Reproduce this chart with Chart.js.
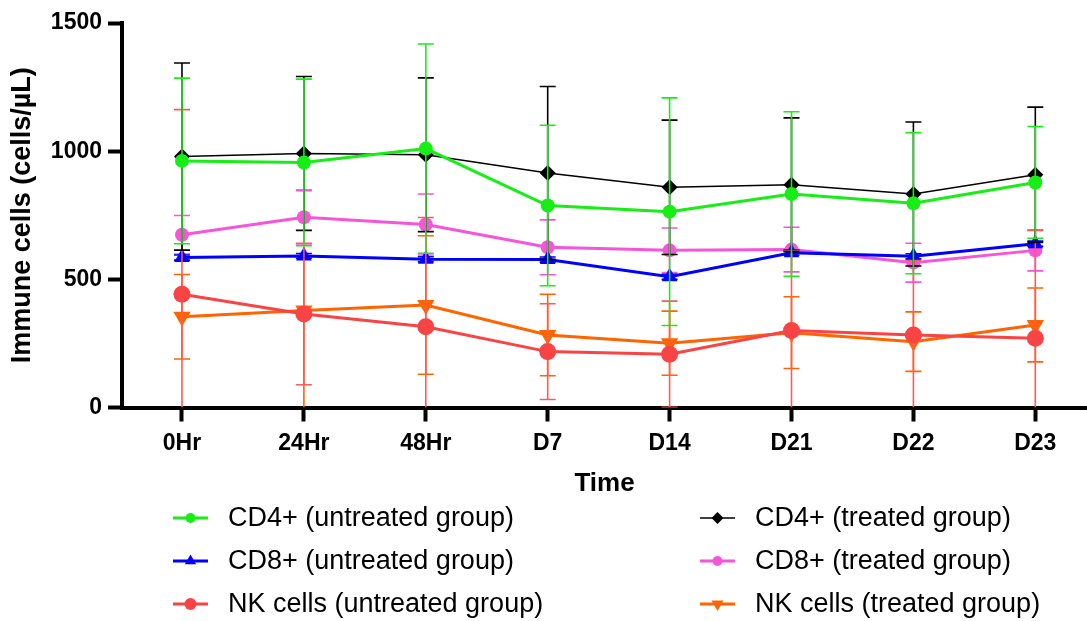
<!DOCTYPE html>
<html>
<head>
<meta charset="utf-8">
<script src="https://cdn.jsdelivr.net/npm/chart.js@4"></script>
<style>
  html, body { margin: 0; padding: 0; background: #fff; }
  #wrap { width: 1087px; height: 621px; position: relative; }
</style>
</head>
<body>
<div id="wrap"><canvas id="chart"></canvas></div>
<script>
// Time points on the x axis
const categories = ["0Hr", "24Hr", "48Hr", "D7", "D14", "D21", "D22", "D23"];

// Mean values (cells/µL) and their SD
const cd4Untreated = [962, 956, 1010, 788, 764, 833, 797, 878];
const cd4UntreatedSd = [323, 325, 408, 313, 444, 321, 275, 218];
const cd4Treated = [979, 991, 986, 915, 859, 869, 833, 908];
const cd4TreatedSd = [365, 300, 300, 337, 262, 261, 281, 264];
const cd8Untreated = [585, 591, 578, 577, 510, 604, 590, 639];
const cd8UntreatedSd = [10, 10, 10, 10, 10, 10, 10, 10];
const cd8Treated = [674, 742, 714, 625, 613, 616, 565, 613];
const cd8TreatedSd = [75, 104, 119, 107, 87, 87, 76, 80];
const nkUntreated = [442, 365, 315, 218, 208, 300, 283, 270];
const nkUntreatedSd = [720, 276, 426, 187, 207, 310, 290, 421];
const nkTreated = [354, 378, 400, 283, 251, 292, 257, 322];
const nkTreatedSd = [165, 470, 270, 159, 125, 140, 116, 144];

// Y axis ticks
const yTicks = [0, 500, 1000, 1500];

Chart.defaults.font.family = "'Liberation Sans', Arial, sans-serif";
Chart.defaults.color = "#000";

// turn a series into {x, y} points on the index axis
const pts = (arr) => arr.map((v, i) => ({ x: i, y: v }));

const makeSet = (label, values, sd, color, opts) => ({
    label: label,
    data: pts(values),
    sd: sd,
    borderColor: color,
    backgroundColor: color,
    pointBackgroundColor: color,
    pointBorderColor: color,
    borderWidth: 3,
    pointRadius: 7,
    pointHoverRadius: 7,
    pointBorderWidth: 0,
    tension: 0,
    errorColor: color,
    legendRadius: 5,
    ...opts,
});

const datasets = [
    makeSet("CD4+ (untreated group)", cd4Untreated, cd4UntreatedSd, "#16ee16", { pointStyle: "circle", pointRadius: 7, order: 1 }),
    makeSet("CD4+ (treated group)", cd4Treated, cd4TreatedSd, "#000000", { pointStyle: "rectRot", pointRadius: 8, borderWidth: 1.5, order: 2, legendRadius: 6 }),
    makeSet("CD8+ (untreated group)", cd8Untreated, cd8UntreatedSd, "#0000ff", { pointStyle: "triangle", pointRadius: 9, order: 4, legendRadius: 6.5 }),
    makeSet("CD8+ (treated group)", cd8Treated, cd8TreatedSd, "#f556d9", { pointStyle: "circle", pointRadius: 7, order: 5 }),
    makeSet("NK cells (untreated group)", nkUntreated, nkUntreatedSd, "#f84444", { pointStyle: "circle", pointRadius: 8.5, order: 3, errorColor: "#ff5a5a", legendRadius: 6 }),
    makeSet("NK cells (treated group)", nkTreated, nkTreatedSd, "#ff6400", { pointStyle: "triangle", pointRotation: 180, pointRadius: 10, order: 6, legendRadius: 7 }),
];

// Error bars drawn right before each dataset's line
const errorBars = {
    id: "errorBars",
    beforeDatasetDraw(chart, args) {
        const ds = chart.data.datasets[args.index];
        const yScale = chart.scales.y;
        const area = chart.chartArea;
        const ctx = chart.ctx;
        ctx.save();
        ctx.beginPath();
        ctx.rect(area.left, area.top - 30, area.right - area.left, area.bottom - area.top + 30);
        ctx.clip();
        ctx.strokeStyle = ds.errorColor;
        ctx.lineWidth = 1.6;
        args.meta.data.forEach((el, i) => {
            const v = ds.data[i].y;
            const s = ds.sd[i];
            const yHi = yScale.getPixelForValue(v + s);
            const lowVal = v - s;
            const yLo = yScale.getPixelForValue(Math.max(0, lowVal));
            ctx.beginPath();
            ctx.moveTo(el.x, yHi);
            ctx.lineTo(el.x, yLo);
            ctx.moveTo(el.x - 8, yHi);
            ctx.lineTo(el.x + 8, yHi);
            if (lowVal > 0) {
                ctx.moveTo(el.x - 8, yLo);
                ctx.lineTo(el.x + 8, yLo);
            }
            ctx.stroke();
        });
        ctx.restore();
    },
};

// Two-column legend under the axis title
const gridLegend = {
    id: "gridLegend",
    afterDraw(chart) {
        const ctx = chart.ctx;
        const colX = [173, 700];
        const rowY = [518, 561, 604];
        ctx.save();
        chart.data.datasets.forEach((ds, i) => {
            const x = colX[i % 2];
            const y = rowY[Math.floor(i / 2)];
            ctx.strokeStyle = ds.borderColor;
            ctx.lineWidth = ds.borderWidth;
            ctx.beginPath();
            ctx.moveTo(x, y);
            ctx.lineTo(x + 35, y);
            ctx.stroke();
            ctx.fillStyle = ds.backgroundColor;
            Chart.helpers.drawPoint(ctx, {
                pointStyle: ds.pointStyle,
                radius: ds.legendRadius,
                rotation: ds.pointRotation || 0,
                borderWidth: 0,
            }, x + 17.5, y);
            ctx.fillStyle = "#000";
            ctx.font = "27px 'Liberation Sans', Arial, sans-serif";
            ctx.textBaseline = "middle";
            ctx.textAlign = "left";
            ctx.fillText(ds.label, x + 55, y + 1);
        });
        ctx.restore();
    },
};

new Chart(document.getElementById("chart"), {
    type: "line",
    data: { datasets: datasets },
    plugins: [errorBars, gridLegend],
    options: {
        responsive: true,
        maintainAspectRatio: false,
        animation: false,
        layout: { autoPadding: false, padding: { top: 23, right: 0, bottom: 0, left: 0 } },
        plugins: {
            legend: { display: false },
            tooltip: { enabled: false },
        },
        scales: {
            x: {
                type: "linear",
                min: -0.492,
                max: 7.424,
                afterBuildTicks: (scale) => {
                    scale.ticks = categories.map((_, i) => ({ value: i }));
                },
                afterFit: (scale) => {
                    scale.height = 213.5;
                    scale.paddingLeft = 0;
                    scale.paddingRight = 0;
                },
                ticks: {
                    callback: (v) => categories[v],
                    font: { size: 23, weight: "bold" },
                    color: "#000",
                    padding: 8,
                    maxRotation: 0,
                    autoSkip: false,
                },
                grid: {
                    drawOnChartArea: false,
                    tickLength: 14,
                    tickWidth: 4,
                    tickColor: "#000",
                },
                border: { color: "#000", width: 4 },
                title: {
                    display: true,
                    text: "Time",
                    font: { size: 26, weight: "bold" },
                    color: "#000",
                    padding: { top: 0, bottom: 122 },
                },
            },
            y: {
                min: 0,
                max: 1500,
                afterBuildTicks: (scale) => {
                    scale.ticks = yTicks.map((v) => ({ value: v }));
                },
                afterFit: (scale) => {
                    scale.width = 122;
                    scale.paddingTop = 0;
                    scale.paddingBottom = 0;
                },
                ticks: {
                    callback: (v) => String(v),
                    font: { size: 23, weight: "bold" },
                    color: "#000",
                    padding: 6,
                },
                grid: {
                    drawOnChartArea: false,
                    tickLength: 14,
                    tickWidth: 4,
                    tickColor: "#000",
                },
                border: { color: "#000", width: 4 },
                title: {
                    display: true,
                    text: "Immune cells (cells/µL)",
                    font: { size: 27, weight: "bold" },
                    color: "#000",
                    padding: { top: 6, bottom: 0 },
                },
            },
        },
    },
});
</script>
</body>
</html>
